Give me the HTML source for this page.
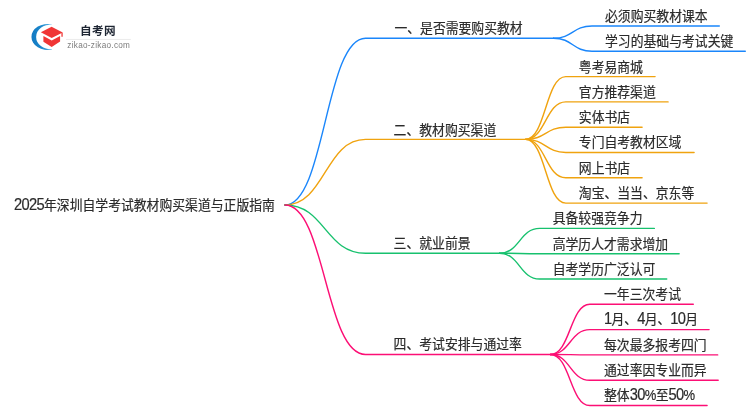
<!DOCTYPE html>
<html lang="zh-CN">
<head>
<meta charset="utf-8">
<title>2025年深圳自学考试教材购买渠道与正版指南</title>
<style>
html,body{margin:0;padding:0;background:#fff;}
body{width:750px;height:410px;overflow:hidden;}
svg{display:block;will-change:transform;}
.links path{fill:none;stroke-width:1.4;stroke-linecap:round;stroke-linejoin:round;}
.nodes text{font-family:"Liberation Sans", "Noto Sans CJK SC", sans-serif;font-size:14.0px;fill:#2b2b2b;stroke:#2b2b2b;stroke-width:0.2px;}
.nodes .n{font-size:16.0px;letter-spacing:-0.72px;}
.nodes .p{font-size:14.2px;letter-spacing:-0.6px;}
</style>
</head>
<body>
<svg width="750" height="410" viewBox="0 0 750 410">
<rect width="750" height="410" fill="#fff"/>
<g class="links">
<path d="M284.90,205.00C325.20,205.00 325.20,38.20 365.50,38.20L553.50,38.20" stroke="#1a86fb"/>
<path d="M553.50,38.20C572.75,38.20 572.75,26.00 592.00,26.00L719.30,26.00" stroke="#1a86fb"/>
<path d="M553.50,38.20C572.75,38.20 572.75,51.30 592.00,51.30L745.30,51.30" stroke="#1a86fb"/>
<path d="M284.90,205.00C325.20,205.00 325.20,139.40 365.50,139.40L525.50,139.40" stroke="#f0a30f"/>
<path d="M525.50,139.40C545.65,139.40 545.65,76.60 565.80,76.60L655.10,76.60" stroke="#f0a30f"/>
<path d="M525.50,139.40C545.65,139.40 545.65,101.90 565.80,101.90L668.10,101.90" stroke="#f0a30f"/>
<path d="M525.50,139.40C545.65,139.40 545.65,127.20 565.80,127.20L642.10,127.20" stroke="#f0a30f"/>
<path d="M525.50,139.40C545.65,139.40 545.65,152.50 565.80,152.50L694.10,152.50" stroke="#f0a30f"/>
<path d="M525.50,139.40C545.65,139.40 545.65,177.80 565.80,177.80L642.10,177.80" stroke="#f0a30f"/>
<path d="M525.50,139.40C545.65,139.40 545.65,203.10 565.80,203.10L707.10,203.10" stroke="#f0a30f"/>
<path d="M284.90,205.00C325.20,205.00 325.20,253.25 365.50,253.25L499.50,253.25" stroke="#17c16e"/>
<path d="M499.50,253.25C519.60,253.25 519.60,228.40 539.70,228.40L654.35,228.40" stroke="#17c16e"/>
<path d="M499.50,253.25C519.60,253.25 519.60,253.70 539.70,253.70L679.15,253.70" stroke="#17c16e"/>
<path d="M499.50,253.25C519.60,253.25 519.60,279.00 539.70,279.00L666.75,279.00" stroke="#17c16e"/>
<path d="M284.90,205.00C325.20,205.00 325.20,354.45 365.50,354.45L550.50,354.45" stroke="#fc0f75"/>
<path d="M550.50,354.45C570.15,354.45 570.15,304.30 589.80,304.30L693.30,304.30" stroke="#fc0f75"/>
<path d="M550.50,354.45C570.15,354.45 570.15,329.60 589.80,329.60L709.10,329.60" stroke="#fc0f75"/>
<path d="M550.50,354.45C570.15,354.45 570.15,354.90 589.80,354.90L717.70,354.90" stroke="#fc0f75"/>
<path d="M550.50,354.45C570.15,354.45 570.15,380.20 589.80,380.20L718.20,380.20" stroke="#fc0f75"/>
<path d="M550.50,354.45C570.15,354.45 570.15,405.50 589.80,405.50L707.10,405.50" stroke="#fc0f75"/>
</g>
<g class="nodes">
<text transform="translate(14.00,210.00) scale(0.917,1)"><tspan class="n">2025</tspan>年深圳自学考试教材购买渠道与正版指南</text>
<text transform="translate(394.40,33.00) scale(0.917,1)">一、是否需要购买教材</text>
<text transform="translate(605.00,21.00) scale(0.917,1)">必须购买教材课本</text>
<text transform="translate(605.00,46.00) scale(0.917,1)">学习的基础与考试关键</text>
<text transform="translate(393.60,135.00) scale(0.917,1)">二、教材购买渠道</text>
<text transform="translate(578.80,72.00) scale(0.917,1)">粤考易商城</text>
<text transform="translate(578.80,97.00) scale(0.917,1)">官方推荐渠道</text>
<text transform="translate(578.80,122.00) scale(0.917,1)">实体书店</text>
<text transform="translate(578.80,147.00) scale(0.917,1)">专门自考教材区域</text>
<text transform="translate(578.80,173.00) scale(0.917,1)">网上书店</text>
<text transform="translate(578.80,198.00) scale(0.917,1)">淘宝、当当、京东等</text>
<text transform="translate(393.60,248.00) scale(0.917,1)">三、就业前景</text>
<text transform="translate(552.70,223.00) scale(0.917,1)">具备较强竞争力</text>
<text transform="translate(552.70,249.00) scale(0.917,1)">高学历人才需求增加</text>
<text transform="translate(552.70,274.00) scale(0.917,1)">自考学历广泛认可</text>
<text transform="translate(393.60,349.00) scale(0.917,1)">四、考试安排与通过率</text>
<text transform="translate(604.00,299.00) scale(0.917,1)">一年三次考试</text>
<text transform="translate(604.00,324.00) scale(0.917,1)"><tspan class="n">1</tspan>月、<tspan class="n">4</tspan>月、<tspan class="n">10</tspan>月</text>
<text transform="translate(604.00,350.00) scale(0.917,1)">每次最多报考四门</text>
<text transform="translate(604.00,375.00) scale(0.917,1)">通过率因专业而异</text>
<text transform="translate(604.00,400.00) scale(0.917,1)">整体<tspan class="n">30</tspan><tspan class="p">%</tspan>至<tspan class="n">50</tspan><tspan class="p">%</tspan></text>
</g>
<g class="logo">
<defs>
<linearGradient id="lg" x1="0" y1="0" x2="1" y2="0">
<stop offset="0" stop-color="#1279c2"/>
<stop offset="0.45" stop-color="#1a86cb"/>
<stop offset="1" stop-color="#55b4e6"/>
</linearGradient>
</defs>
<path d="M51.9,24.38 A16.1,13 0 1 0 51.9,49.42 L51.9,49.0 A13.9,12.21 0 1 1 51.9,24.8 Z" fill="url(#lg)"/>
<path d="M40.85,32.3 L51.6,26.8 L62.7,32.4 L51.7,37.9 Z" fill="#f03636"/>
<path d="M43.4,36.0 L51.7,40.4 L60.1,36.0 L60.1,41.5 L51.7,46.9 L43.4,41.8 Z" fill="#f03636"/>
<path d="M61.4,33.0 L62.7,32.4 L62.7,36.8 L61.4,36.8 Z" fill="#f03636"/>
<text x="80.0" y="35" style="font-family:'Liberation Sans','Noto Sans CJK SC',sans-serif;font-weight:700;font-size:11.6px;letter-spacing:0.35px;fill:#1e2633">自考网</text>
<rect x="66" y="38.95" width="64.8" height="0.6" fill="#dcdcdc"/>
<text x="67.3" y="48" style="font-family:'Liberation Sans',sans-serif;font-size:8.2px;letter-spacing:0.28px;fill:#7c7c7c">zikao-zikao.com</text>
</g>

</svg>
</body>
</html>
